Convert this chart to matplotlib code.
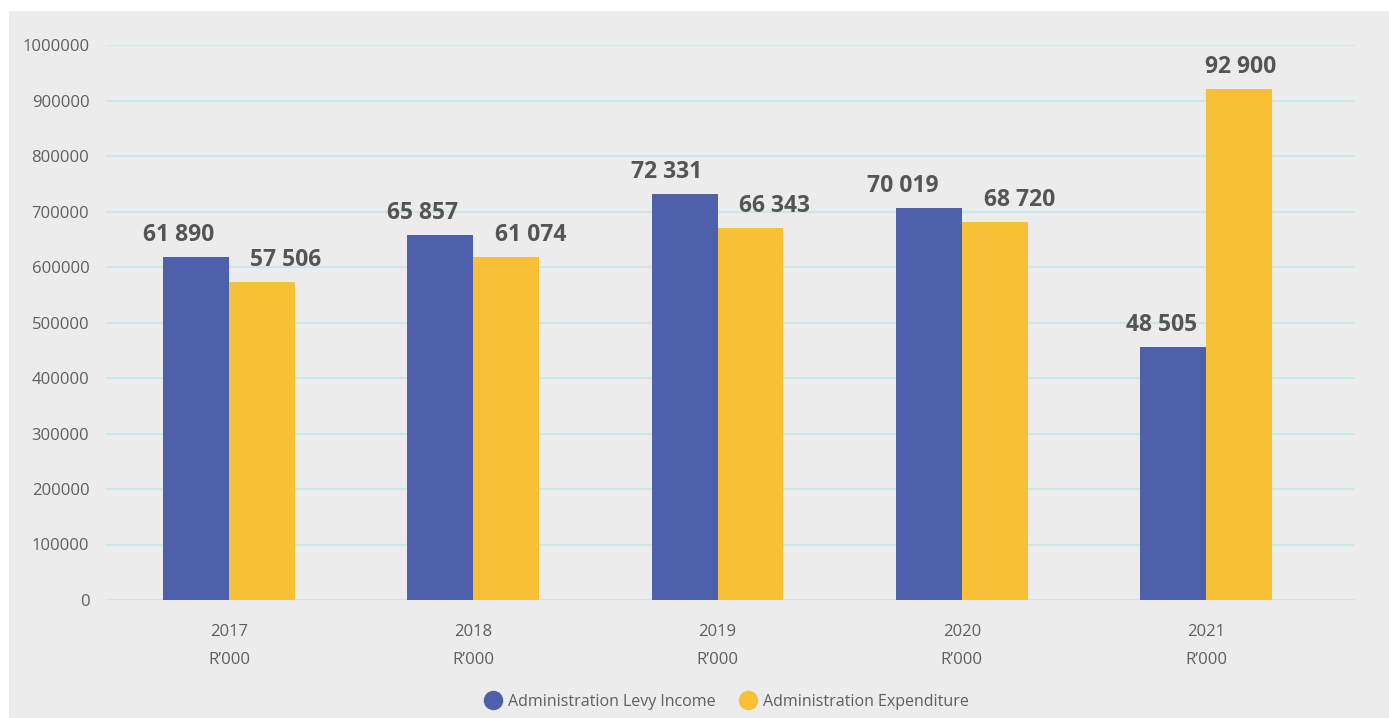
import matplotlib
matplotlib.use("Agg")
import matplotlib.pyplot as plt
from matplotlib.patches import Rectangle
from matplotlib.lines import Line2D
import numpy as np

years = ["2017", "2018", "2019", "2020", "2021"]
unit = "R\u2019000"
series_names = ["Administration Levy Income", "Administration Expenditure"]
levy_income = [618000, 657700, 731500, 706300, 455900]
expenditure = [573000, 618000, 670300, 681100, 920700]
levy_labels = ["61 890", "65 857", "72 331", "70 019", "48 505"]
exp_labels = ["57 506", "61 074", "66 343", "68 720", "92 900"]
yticks = [0, 100000, 200000, 300000, 400000, 500000, 600000, 700000, 800000, 900000, 1000000]

BLUE = "#4e60ab"
YELLOW = "#f8c037"
BG = "#ececec"
GRID = "#cce8e5"
TXT = "#5f5f5f"
LBL = "#555555"

plt.rcParams["font.family"] = ["Open Sans", "DejaVu Sans"]

W, H = 1389, 718
fig = plt.figure(figsize=(W / 100, H / 100), dpi=100)
fig.patch.set_facecolor("white")
fig.patches.append(Rectangle((9 / W, 0), 1 - 9 / W, 1 - 11 / H, transform=fig.transFigure,
                             facecolor=BG, edgecolor="none", zorder=-10))

# axes: x from 106 to 1355 px, y from 600 (0) to 45 (1e6)
y0_px, y1_px = 600, 45
ax = fig.add_axes([106 / W, (H - y0_px) / H, (1355 - 106) / W, (y0_px - y1_px) / H])
ax.set_zorder(1)
ax.set_facecolor("none")
ax.set_ylim(0, 1000000)
ax.set_xlim(-0.504, 4.61)

x = np.arange(len(years))
bw = 0.27
ax.bar(x - bw / 2, levy_income, width=bw, color=BLUE, zorder=3, label=series_names[0])
ax.bar(x + bw / 2, expenditure, width=bw, color=YELLOW, zorder=3, label=series_names[1])

# label horizontal offsets (pixels) from bar centre
levy_dx = [-17, -18, -18, -26, -11]
exp_dx = [24, 24, 24, 25, 2]
px2pt = 0.72
for i in range(len(years)):
    ax.annotate(levy_labels[i], (x[i] - bw / 2, levy_income[i]),
                xytext=(levy_dx[i] * px2pt, 10 * px2pt), textcoords="offset points",
                ha="center", va="bottom", fontsize=16.5, fontweight="bold", color=LBL, zorder=4)
    ax.annotate(exp_labels[i], (x[i] + bw / 2, expenditure[i]),
                xytext=(exp_dx[i] * px2pt, 10 * px2pt), textcoords="offset points",
                ha="center", va="bottom", fontsize=16.5, fontweight="bold", color=LBL, zorder=4)

ax.set_yticks(yticks)
ax.set_yticklabels([str(v) for v in yticks])
ax.yaxis.grid(True, color=GRID, linewidth=1.5, zorder=1)
ax.set_axisbelow(True)
ax.set_xticks(x)
ax.set_xticklabels([f"{y}\n{unit}" for y in years], linespacing=2.0)
ax.tick_params(axis="both", length=0, colors=TXT, labelsize=12)
ax.tick_params(axis="x", pad=17)
ax.tick_params(axis="y", pad=12)
for s in ax.spines.values():
    s.set_visible(False)

handles = [Line2D([0], [0], marker="o", color="none", markerfacecolor=BLUE, markeredgecolor=BLUE, markersize=13),
           Line2D([0], [0], marker="o", color="none", markerfacecolor=YELLOW, markeredgecolor=YELLOW, markersize=13)]
leg = fig.legend(handles, series_names, loc="center", bbox_to_anchor=(725 / W, (H - 702) / H),
                 ncol=2, frameon=False, fontsize=11.5, handletextpad=0.2, columnspacing=1.3,
                 handlelength=1.5)
for t in leg.get_texts():
    t.set_color(TXT)

fig.savefig("out.png", dpi=100, facecolor=fig.get_facecolor())
